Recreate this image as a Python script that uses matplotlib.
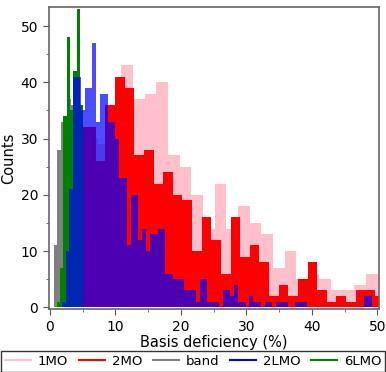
import matplotlib.pyplot as plt
import numpy as np
from matplotlib.lines import Line2D

# Data: per-series bin start, bin width and counts
mo1_start, mo1_width = 2.0, 1.78
mo1_counts = [10, 28, 30, 29, 35, 43, 37, 38, 40, 27, 25, 20, 14, 22, 14,
              18, 15, 13, 7, 10, 5, 6, 5, 3, 3, 4, 6]

mo2_start, mo2_width = 1.13, 1.47
mo2_counts = [2, 8, 32, 32, 26, 36, 41, 39, 27, 28, 22, 24, 20, 19, 10, 16,
              12, 6, 16, 9, 11, 8, 2, 4, 2, 5, 8, 3, 1, 2, 1, 3, 3, 2]

band_start, band_width = 0.6, 0.51
band_counts = [11, 28, 33, 20, 37, 36]

lmo2_start, lmo2_width = 1.805, 0.585
lmo2_counts = [1, 10, 21, 41, 41, 35, 39, 39, 47, 33, 38, 38, 33, 33, 30,
               23, 23, 11, 20, 20, 12, 14, 10, 13, 13, 14, 14, 6, 6, 5, 5,
               5, 3, 3, 3, 1, 5, 5, 1, 1, 1, 0, 3, 3, 2, 4, 1, 1, 0, 2, 1,
               1, 0, 1, 1, 0, 1, 1, 1, 0, 0, 1, 1, 1, 0, 0, 0, 0, 0, 0, 0,
               0, 0, 0, 0, 0, 0, 0, 0, 2, 2]

lmo6_start, lmo6_width = 1.02, 0.51
lmo6_counts = [1, 7, 34, 48, 35, 42, 53, 36]

series = [
    ("1MO", mo1_start, mo1_width, mo1_counts, "#ffc0cb", 1.0),
    ("2MO", mo2_start, mo2_width, mo2_counts, "#ff0000", 1.0),
    ("band", band_start, band_width, band_counts, "#808080", 1.0),
    ("6LMO", lmo6_start, lmo6_width, lmo6_counts, "#008000", 1.0),
    ("2LMO", lmo2_start, lmo2_width, lmo2_counts, "#0000ff", 0.7),
]
legend_order = ["1MO", "2MO", "band", "2LMO", "6LMO"]

fig = plt.figure(figsize=(3.86, 3.72), dpi=100)
ax = fig.add_axes([0.126, 0.1685, 0.855, 0.8115])

colors = {}
for name, start, width, counts, color, alpha in series:
    counts = np.array(counts, dtype=float)
    edges = start + width * np.arange(len(counts) + 1)
    ax.hist(edges[:-1], bins=edges, weights=counts, histtype="stepfilled",
            color=color, alpha=alpha, linewidth=0)
    colors[name] = color

ax.set_xlim(-0.2, 50.2)
ax.set_ylim(-0.35, 53.3)
ax.set_xticks(np.arange(0, 51, 10))
ax.set_xticks(np.arange(5, 50, 10), minor=True)
ax.set_yticks(np.arange(0, 51, 10))
ax.set_yticks(np.arange(5, 51, 10), minor=True)
ax.tick_params(which="both", direction="out", labelsize=10, color="#555555")
ax.tick_params(which="major", length=4)
ax.tick_params(which="minor", length=2.5)
for s in ax.spines.values():
    s.set_color("#666666")
    s.set_linewidth(1.2)

ax.set_xlabel("Basis deficiency (%)", fontsize=10.5, labelpad=1)
ax.set_ylabel("Counts", fontsize=10.5)
ax.yaxis.set_label_coords(-0.098, 0.5)

handles = [Line2D([], [], color=colors[n], lw=1.5) for n in legend_order]
leg = fig.legend(handles, legend_order, loc="upper center", ncol=5,
                 bbox_to_anchor=(0.5, 1 - 351 / 372), fontsize=9.5,
                 handlelength=2.0, handletextpad=0.5, columnspacing=0.8,
                 fancybox=False, borderpad=0.3, borderaxespad=0)
leg.get_frame().set_edgecolor("black")
leg.get_frame().set_linewidth(1.0)

fig.savefig("out.png", dpi=100)
